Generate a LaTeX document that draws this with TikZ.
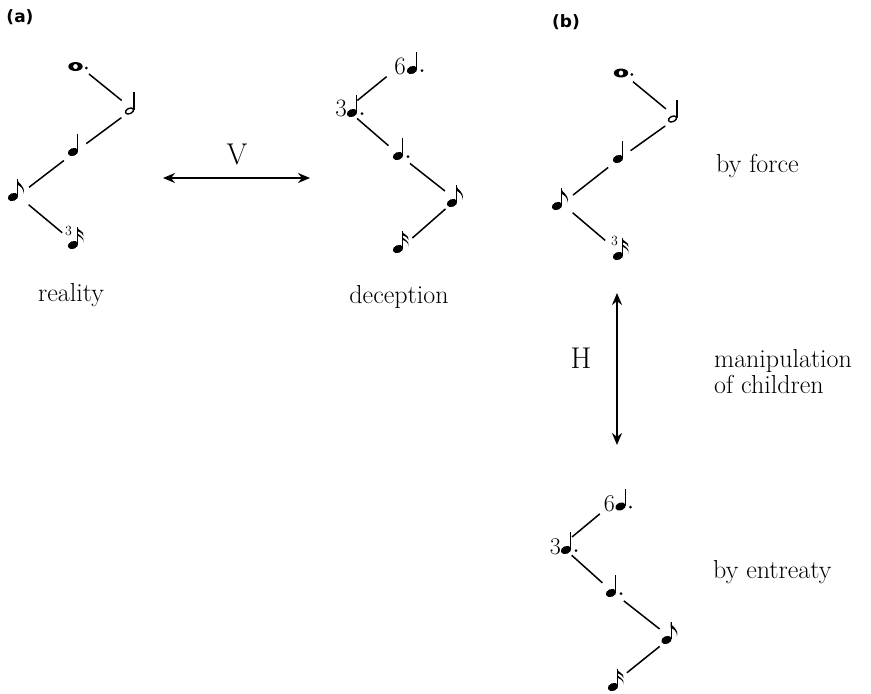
\documentclass[tikz,border=0pt]{standalone}
\usepackage{fontspec}
\newfontfamily\labfont{DejaVu Sans}
\usetikzlibrary{arrows.meta}
\tikzset{
  quarternote/.pic={
    \fill[rotate=22] (0,0) ellipse [x radius=5.4pt, y radius=3.9pt];
    \draw[line width=1.4pt] (4.7,-1) -- (4.7,-18);
  },
  dottedquarter/.pic={
    \pic {quarternote};
    \fill (10,0.5) circle [radius=1.5pt];
  },
  halfnote/.pic={
    \draw[line width=1.4pt, rotate=25] (0,0) ellipse [x radius=4.3pt, y radius=2.7pt];
    \draw[line width=1.4pt] (4.5,-1) -- (4.5,-19);
  },
  eighthnote/.pic={
    \pic {quarternote};
    \fill (4,-18) .. controls (4.8,-13) and (12.5,-12) .. (10.5,-3.5)
      .. controls (10.5,-8.5) and (8,-10.5) .. (4,-12.5) -- cycle;
  },
  sixteenthnote/.pic={
    \pic {quarternote};
    \fill (4,-18) .. controls (4.8,-14.5) and (11.5,-14) .. (10.5,-9)
      .. controls (10.2,-11.5) and (7.5,-12.5) .. (4,-14) -- cycle;
    \fill (4,-13) .. controls (4.8,-9.5) and (12,-9) .. (10.5,-2.5)
      .. controls (10.5,-6.5) and (7.5,-8) .. (4,-9.5) -- cycle;
  },
  dottedwhole/.pic={
    \fill[even odd rule] (0,0) ellipse [x radius=7.2pt, y radius=4.5pt]
      (0,0) ellipse [x radius=2.4pt, y radius=2.6pt];
    \fill (10.8,1.5) circle [radius=1.5pt];
  },
  conn/.style={line width=1.5pt, shorten <=14pt, shorten >=14pt},
  twoway/.style={line width=1.6pt, {Stealth[length=12pt,width=10pt]}-{Stealth[length=12pt,width=10pt]}},
  lbl/.style={font=\fontsize{26}{26}\selectfont, inner sep=0pt},
  biglbl/.style={font=\fontsize{30}{30}\selectfont, inner sep=0pt},
  digit/.style={font=\fontsize{25}{25}\selectfont, inner sep=0pt, anchor=base east},
  smalldigit/.style={font=\fontsize{24}{24}\selectfont, inner sep=0pt, anchor=base east},
  tuplet/.style={font=\fontsize{14}{14}\selectfont, inner sep=0pt},
  panel/.style={font=\labfont\bfseries\fontsize{17}{17}\selectfont, inner sep=0pt}
}
\begin{document}
\begin{tikzpicture}[x=1pt,y=-1pt]
\useasboundingbox (0,0) rectangle (871,694);

% panel labels
\node[panel] (pa) at (20,17) {(a)};
\node[panel] (pb) at (566,22) {(b)};

% ---- (a) reality ----
\pic at (75.5,66.5) {dottedwhole};
\pic at (129.5,111) {halfnote};
\pic at (73,152) {quarternote};
\pic at (13,197) {eighthnote};
\pic at (73,245) {sixteenthnote};
\node[tuplet] (ta) at (68.5,231) {3};
\coordinate (a1) at (78.1,65.2);
\coordinate (a2) at (132.6,109.3);
\coordinate (a3) at (75,152);
\coordinate (a4) at (17.9,195.8);
\coordinate (a5) at (73,241.7);
\draw[conn] (a1) -- (a2);
\draw[conn] (a2) -- (a3);
\draw[conn] (a3) -- (a4);
\draw[conn] (a4) -- (a5);
\node[lbl, anchor=base] (reality) at (71,301) {reality};

% ---- V arrow ----
\coordinate (v1) at (163,178);
\coordinate (v2) at (310,178);
\draw[twoway] (v1) -- (v2);
\node[biglbl, anchor=base] (V) at (237,164) {V};

% ---- (a) deception ----
\pic at (412,70) {dottedquarter};
\node[digit] (d6) at (406,74) {6};
\pic at (352,113) {dottedquarter};
\node[digit] (d3) at (347,116) {3};
\pic at (398,156) {dottedquarter};
\pic at (452,203) {eighthnote};
\pic at (398,249) {sixteenthnote};
\coordinate (d1) at (397.5,67.8);
\coordinate (d2) at (346.5,109.3);
\coordinate (d3c) at (399,154.8);
\coordinate (d4) at (456,199.7);
\coordinate (d5) at (401.9,247.2);
\draw[conn] (d1) -- (d2);
\draw[conn] (d2) -- (d3c);
\draw[conn] (d3c) -- (d4);
\draw[conn] (d4) -- (d5);
\node[lbl, anchor=base] (deception) at (399,303) {deception};

% ---- (b) by force ----
\pic at (621,73) {dottedwhole};
\pic at (672.5,119) {halfnote};
\pic at (618,159) {quarternote};
\pic at (557,206) {eighthnote};
\pic at (618,256) {sixteenthnote};
\node[tuplet] (tb) at (614.5,241) {3};
\coordinate (f1) at (622.2,72.8);
\coordinate (f2) at (676.7,117.8);
\coordinate (f3) at (619.2,158.8);
\coordinate (f4) at (562,203.7);
\coordinate (f5) at (615.9,249.5);
\draw[conn] (f1) -- (f2);
\draw[conn] (f2) -- (f3);
\draw[conn] (f3) -- (f4);
\draw[conn] (f4) -- (f5);
\node[lbl, anchor=base west] (force) at (716,172) {by force};

% ---- H arrow ----
\coordinate (h1) at (617,293);
\coordinate (h2) at (617,445);
\draw[twoway] (h1) -- (h2);
\node[biglbl, anchor=base] (H) at (581,368) {H};
\node[lbl, anchor=base west] (manip) at (714,367) {manipulation};
\node[lbl, anchor=base west] (child) at (714,393) {of children};

% ---- (b) by entreaty ----
\pic at (620.5,506.5) {dottedquarter};
\node[smalldigit] (e6) at (615,511) {6};
\pic at (566,550) {dottedquarter};
\node[smalldigit] (e3) at (561,554) {3};
\pic at (611,593) {dottedquarter};
\pic at (666.5,640) {eighthnote};
\pic at (613,687) {sixteenthnote};
\coordinate (e1) at (610.6,504.9);
\coordinate (e2) at (561.3,545.9);
\coordinate (e3c) at (612.8,592.2);
\coordinate (e4) at (670.6,637.6);
\coordinate (e5) at (616,681.5);
\draw[conn] (e1) -- (e2);
\draw[conn] (e2) -- (e3c);
\draw[conn] (e3c) -- (e4);
\draw[conn] (e4) -- (e5);
\node[lbl, anchor=base west] (entreaty) at (713,578) {by entreaty};
\end{tikzpicture}
\end{document}
